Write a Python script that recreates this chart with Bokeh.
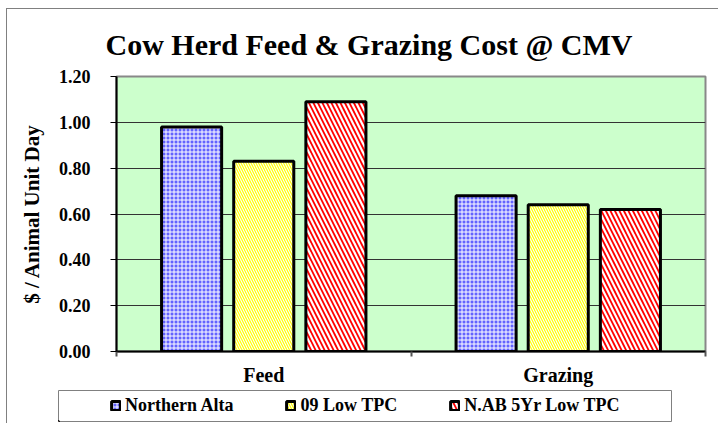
from bokeh.plotting import figure
from bokeh.layouts import column
from bokeh.models import ColumnDataSource, FixedTicker, Legend, LegendItem, Range1d
from bokeh.transform import dodge
from bokeh.embed import file_html
from bokeh.resources import INLINE

categories = ["Feed", "Grazing"]
series_names = ["Northern Alta", "09 Low TPC", "N.AB 5Yr Low TPC"]
northern_alta = [0.98, 0.68]
low_tpc_09 = [0.83, 0.64]
nab_5yr_low_tpc = [1.09, 0.62]
y_ticks = [0.0, 0.2, 0.4, 0.6, 0.8, 1.0, 1.2]

FONT = "Liberation Serif"

p = figure(width=711, height=379, output_backend="svg", toolbar_location=None,
           x_range=Range1d(0, len(categories)), y_range=Range1d(0, 1.2),
           min_border_left=109, min_border_right=13, min_border_top=67, min_border_bottom=36,
           frame_align=False)

p.background_fill_color = "#ccffcc"
p.border_fill_color = "white"
p.outline_line_color = "#888888"
p.outline_line_width = 2

p.title.text = "Cow Herd Feed & Grazing Cost @ CMV"
p.title.text_font = FONT
p.title.text_font_size = "30px"
p.title.text_font_style = "bold"
p.title.text_color = "black"
p.title.align = "left"
p.title.offset = -11
p.title.standoff = 32

x_centers = [i + 0.5 for i in range(len(categories))]
src = ColumnDataSource(dict(x=x_centers, na=northern_alta, lt=low_tpc_09, nab=nab_5yr_low_tpc))

styles = [
    dict(field="na", off=-0.245, fill_color="#6262ff", hatch_pattern="cross", hatch_color="white",
         hatch_scale=4, hatch_weight=1),
    dict(field="lt", off=0.0, fill_color="white", hatch_pattern="left_diagonal_line", hatch_color="#ffff00",
         hatch_scale=5, hatch_weight=1.2),
    dict(field="nab", off=0.245, fill_color="white", hatch_pattern="left_diagonal_line", hatch_color="#ff0000",
         hatch_scale=9, hatch_weight=1.8),
]

def bar_kwargs(st):
    return dict(fill_color=st["fill_color"], hatch_pattern=st["hatch_pattern"], hatch_color=st["hatch_color"],
                hatch_scale=st["hatch_scale"], hatch_weight=st["hatch_weight"],
                line_color="black", line_width=3)

for st in styles:
    p.vbar(x=dodge("x", st["off"]), top=st["field"], width=0.204, source=src, **bar_kwargs(st))

# axes
p.xaxis.ticker = FixedTicker(ticks=x_centers, minor_ticks=list(range(len(categories) + 1)))
p.xaxis.major_label_overrides = {c: n for c, n in zip(x_centers, categories)}
p.xaxis.major_tick_line_color = None
p.xaxis.major_tick_out = 0
p.xaxis.major_tick_in = 0
p.xaxis.minor_tick_out = 5
p.xaxis.minor_tick_in = 0
p.xaxis.minor_tick_line_color = "#555555"
p.xaxis.minor_tick_line_width = 2
p.xaxis.major_label_standoff = 7
p.xaxis.axis_line_color = "black"
p.xaxis.axis_line_width = 2

p.yaxis.ticker = FixedTicker(ticks=y_ticks)
p.yaxis.major_label_overrides = {t: f"{t:.2f}" for t in y_ticks}
p.yaxis.minor_tick_line_color = None
p.yaxis.major_tick_out = 6
p.yaxis.major_tick_in = 0
p.yaxis.major_tick_line_color = "black"
p.yaxis.major_label_standoff = 20
p.yaxis.axis_line_color = "black"
p.yaxis.axis_line_width = 2
p.yaxis.axis_label = "$ / Animal Unit Day"
p.yaxis.axis_label_standoff = 12

for ax in (p.xaxis[0], p.yaxis[0]):
    ax.major_label_text_font = FONT
    ax.major_label_text_font_style = "bold"
    ax.major_label_text_color = "black"
    ax.axis_label_text_font = FONT
    ax.axis_label_text_font_style = "bold"
    ax.axis_label_text_color = "black"
p.xaxis.major_label_text_font_size = "20px"
p.yaxis.major_label_text_font_size = "18px"
p.yaxis.axis_label_text_font_size = "21px"

p.xgrid.grid_line_color = None
p.ygrid.ticker = FixedTicker(ticks=y_ticks)
p.ygrid.grid_line_color = "#333333"
p.ygrid.grid_line_width = 1

# legend strip (its frame is the legend box)
lg = figure(width=711, height=35, output_backend="svg", toolbar_location=None,
            x_axis_type=None, y_axis_type=None, x_range=Range1d(0, 1), y_range=Range1d(0, 1),
            min_border_left=51, min_border_right=47, min_border_top=2, min_border_bottom=2,
            frame_align=False)
lg.background_fill_color = "white"
lg.border_fill_color = "white"
lg.outline_line_color = "#808080"
lg.outline_line_width = 1
lg.xgrid.visible = False
lg.ygrid.visible = False

key_src = ColumnDataSource(dict(x=[-10.0], t=[-10.0]))
items = []
for name, st in zip(series_names, styles):
    r = lg.vbar(x="x", top="t", width=0.1, source=key_src, **bar_kwargs(st))
    items.append(LegendItem(label=name, renderers=[r]))

legend = Legend(items=items, orientation="horizontal", location=(52, 5),
                label_text_font=FONT, label_text_font_style="bold", label_text_font_size="18px",
                label_text_color="black", glyph_width=11, glyph_height=11, label_standoff=4,
                spacing=52, padding=0, border_line_color=None,
                background_fill_alpha=0, margin=0)
lg.add_layout(legend, "center")

root = column(p, lg, spacing=0,
              styles={"margin-left": "6px", "margin-top": "8px",
                      "border-top": "1px solid #808080", "border-left": "1px solid #808080"})

open("out.html", "w").write(file_html(root, INLINE))
